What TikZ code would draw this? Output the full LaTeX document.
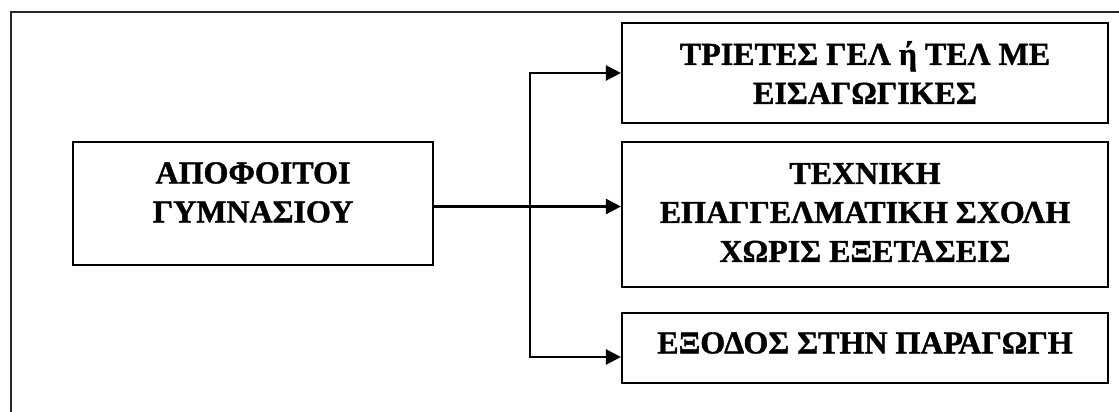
\documentclass[tikz,border=0pt]{standalone}
\usepackage{fontspec}
\setmainfont{Liberation Serif}
\newfontfamily\boxfont[FakeBold=1.2]{Liberation Serif Bold}
\usetikzlibrary{arrows.meta}
\begin{document}
\begin{tikzpicture}[x=1pt,y=-1pt,
  frame/.style={line width=2pt,draw=black!85},
  boxshape/.style={draw,line width=2.2pt,inner sep=0pt,rectangle},
  label/.style={font=\boxfont\fontsize{32}{39}\selectfont,align=center,inner sep=0pt},
  arr/.style={line width=2.5pt,-{Triangle[length=15pt,width=15pt]}}]
\useasboundingbox (0,0) rectangle (1119,412);
\draw[frame] (11,420) -- (11,12) -- (1125,12);
% boxes
\node[boxshape,minimum width=360pt,minimum height=123pt] (l) at (253,203.5) {};
\node[boxshape,minimum width=486pt,minimum height=100pt] (b1) at (865,73) {};
\node[boxshape,minimum width=486pt,minimum height=145pt] (b2) at (865,214.5) {};
\node[boxshape,minimum width=486pt,minimum height=70pt] (b3) at (865,348) {};
% texts
\node[label] (lt) at (253,192.5) {ΑΠΟΦΟΙΤΟΙ\\ΓΥΜΝΑΣΙΟΥ};
\node[label] (t1) at (865,72.5) {ΤΡΙΕΤΕΣ ΓΕΛ ή ΤΕΛ ΜΕ\\ΕΙΣΑΓΩΓΙΚΕΣ};
\node[label] (t2) at (865,212.5) {ΤΕΧΝΙΚΗ\\ΕΠΑΓΓΕΛΜΑΤΙΚΗ ΣΧΟΛΗ\\ΧΩΡΙΣ ΕΞΕΤΑΣΕΙΣ};
\node[label] (t3) at (865,343) {ΕΞΟΔΟΣ ΣΤΗΝ ΠΑΡΑΓΩΓΗ};
% connectors
\coordinate (jt) at (530,73);
\coordinate (jm) at (530,206.5);
\coordinate (jb) at (530,357);
\draw[arr] (l.east |- jm) -- (b2.west |- jm);
\draw[arr] (jb) -- (jt) -- (b1.west |- jt);
\draw[arr] (jt) -- (jb) -- (b3.west |- jb);
\end{tikzpicture}
\end{document}
